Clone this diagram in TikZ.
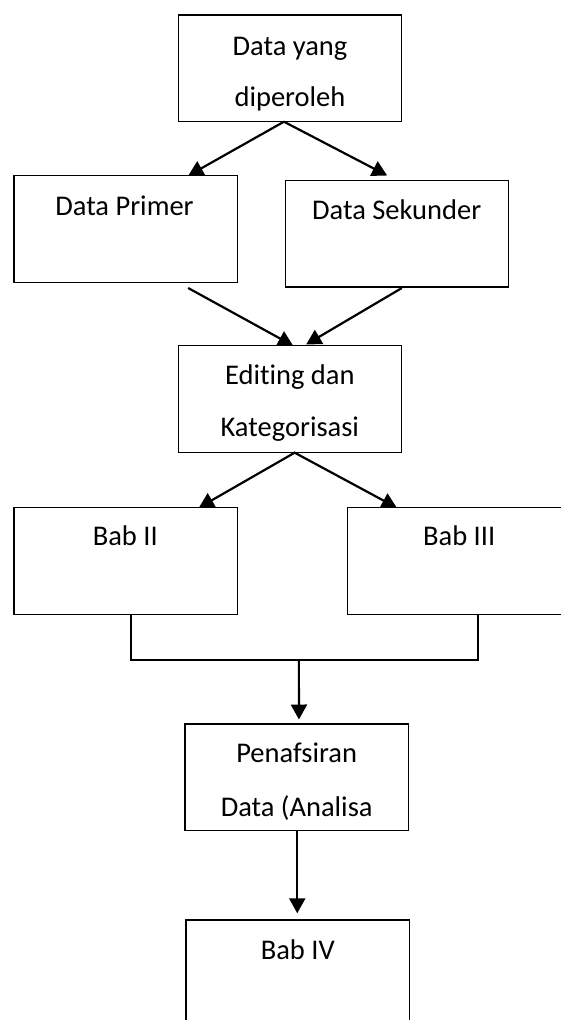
\documentclass[tikz,border=0pt]{standalone}
\usepackage{fontspec}
\setmainfont{Carlito}[Ligatures=NoCommon]
\usetikzlibrary{arrows.meta}
\begin{document}
\begin{tikzpicture}[x=1pt,y=-1pt,
  box/.style={draw=black,line width=1.5pt,minimum width=223.3pt,minimum height=106.7pt,anchor=north west,inner sep=0pt,outer sep=0pt},
  lbl/.style={anchor=base,inner sep=0pt,font=\fontsize{28.5pt}{34pt}\selectfont},
  arr/.style={line width=2.2pt,-{Triangle[length=15pt,width=16pt]}},
  link/.style={line width=1.6pt}]
\useasboundingbox (0,0) rectangle (561,1020);
\clip (0,0) rectangle (561,1020);
\fill[white] (0,0) rectangle (561,1020);
% boxes
\node[box] (b1) at (178.3,15) {};
\node[box] (b2) at (14,175.7) {};
\node[box] (b3) at (285.3,180.3) {};
\node[box] (b4) at (178.3,345.7) {};
\node[box] (b5) at (14,507.7) {};
\node[box] (b6) at (347.3,507.7) {};
\node[box] (b7) at (185,724) {};
\node[box] (b8) at (186,920) {};
% texts
\node[lbl] (t1a) at (290,55) {Data yang};
\node[lbl] (t1b) at (290,106.7) {diperoleh};
\node[lbl] (t2) at (124.5,215) {Data Primer};
\node[lbl] (t3) at (396.7,219) {Data Sekunder};
\node[lbl] (t4a) at (289.8,384) {Editing dan};
\node[lbl] (t4b) at (289.8,436.7) {Kategorisasi};
\node[lbl] (t5) at (125.3,545.7) {Bab II};
\node[lbl] (t6) at (459.2,545.7) {Bab III};
\node[lbl] (t7a) at (296.7,762.7) {Penafsiran};
\node[lbl] (t7b) at (296.7,816) {Data (Analisa};
\node[lbl] (t8) at (297.8,959) {Bab IV};
% connectors
\draw[arr] ([xshift=-6pt]b1.south) -- ([xshift=62.6pt]b2.north);
\draw[arr] ([xshift=-6pt]b1.south) -- ([xshift=-9.8pt,yshift=4.8pt]b3.north);
\draw[arr] ([xshift=62.5pt,yshift=-5.6pt]b2.south) -- ([xshift=3.2pt]b4.north);
\draw[arr] ([xshift=4.9pt,yshift=-1pt]b3.south) -- ([xshift=16.2pt,yshift=1.2pt]b4.north);
\draw[arr] ([xshift=5.2pt]b4.south) -- ([xshift=73.2pt]b5.north);
\draw[arr] ([xshift=4.2pt]b4.south) -- ([xshift=-62.2pt]b6.north);
\draw[link] ([xshift=5.2pt]b5.south) -- ++(0,45.3) -| ([xshift=19.1pt]b6.south);
\coordinate (j) at ([xshift=173.2pt,yshift=-45.3pt]b5.south);
\draw[arr] (j) -- ([xshift=2.3pt,yshift=4.5pt]b7.north);
\draw[arr] ([xshift=0.6pt]b7.south) -- ([xshift=-0.4pt,yshift=6.7pt]b8.north);
\end{tikzpicture}
\end{document}
